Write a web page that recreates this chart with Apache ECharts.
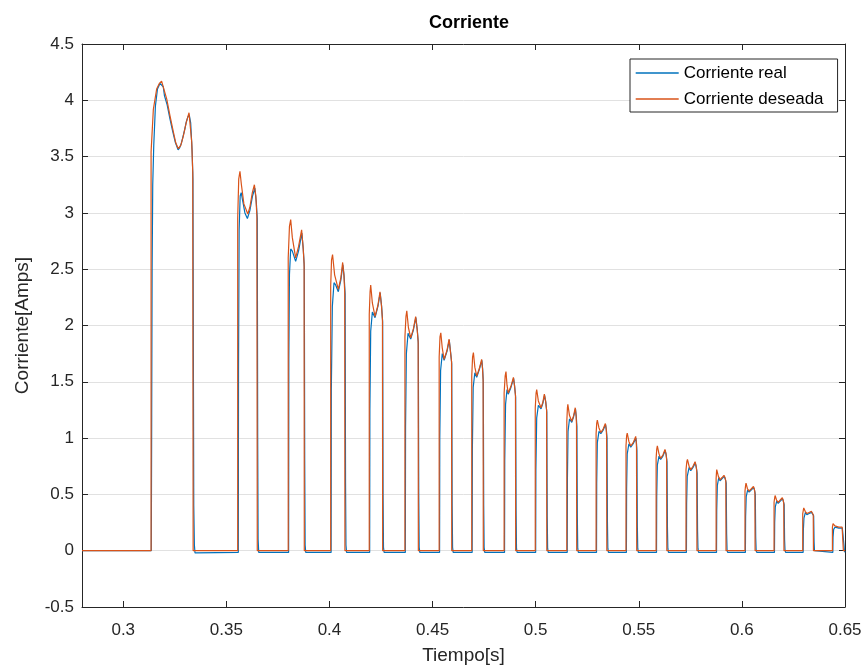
<!DOCTYPE html>
<html>
<head>
<meta charset="utf-8">
<script src="https://cdn.jsdelivr.net/npm/echarts@6/dist/echarts.min.js"></script>
<style>
html,body{margin:0;padding:0;background:#fff;}
#chart{width:866px;height:671px;}
</style>
</head>
<body>
<div id="chart"></div>
<script>
// Tick values
var xTicks = [0.3, 0.35, 0.4, 0.45, 0.5, 0.55, 0.6, 0.65];
var seriesNames = ['Corriente real', 'Corriente deseada'];

// Corriente deseada (orange) — [tiempo, corriente]
var corrienteDeseada = [
  [0.28,0],
  [0.3135,0],[0.3135,3.54],[0.3146,3.92],[0.3162,4.10],[0.3175,4.15],[0.3186,4.17],[0.3211,4.01],[0.3227,3.86],[0.3243,3.72],[0.3255,3.62],[0.3267,3.57],[0.3279,3.60],[0.3291,3.68],[0.3305,3.80],[0.3319,3.89],[0.3332,3.63],[0.3337,3.36],[0.3339,0],
  [0.3555,0],[0.3555,2.95],[0.3560,3.30],[0.3566,3.37],[0.3573,3.25],[0.3585,3.08],[0.3604,2.99],[0.3614,3.05],[0.3626,3.18],[0.3636,3.25],[0.3643,3.15],[0.3648,2.97],[0.3650,0],
  [0.3800,0],[0.3800,2.60],[0.3806,2.88],[0.3812,2.94],[0.3820,2.78],[0.3836,2.60],[0.3850,2.70],[0.3865,2.85],[0.3872,2.70],[0.3877,2.55],[0.3878,0],
  [0.4006,0],[0.4006,2.35],[0.4010,2.58],[0.4015,2.63],[0.4025,2.45],[0.4043,2.32],[0.4055,2.42],[0.4064,2.56],[0.4070,2.45],[0.4074,2.30],[0.4075,0],
  [0.4193,0],[0.4193,2.10],[0.4197,2.30],[0.4200,2.36],[0.4208,2.20],[0.4221,2.08],[0.4235,2.18],[0.4245,2.30],[0.4252,2.18],[0.4257,2.05],[0.4258,0],
  [0.4366,0],[0.4366,1.90],[0.4371,2.08],[0.4375,2.13],[0.4383,1.98],[0.4394,1.89],[0.4407,1.97],[0.4418,2.08],[0.4425,1.97],[0.4430,1.86],[0.4431,0],
  [0.4532,0],[0.4532,1.72],[0.4536,1.90],[0.4540,1.935],[0.4547,1.80],[0.4556,1.70],[0.4570,1.78],[0.4580,1.88],[0.4586,1.78],[0.4592,1.68],[0.4593,0],
  [0.4690,0],[0.4690,1.55],[0.4694,1.72],[0.4698,1.76],[0.4705,1.63],[0.4714,1.55],[0.4727,1.62],[0.4738,1.70],[0.4742,1.62],[0.4745,1.52],[0.4746,0],
  [0.4847,0],[0.4847,1.40],[0.4852,1.55],[0.4856,1.59],[0.4861,1.47],[0.4867,1.40],[0.4880,1.46],[0.4892,1.54],[0.4897,1.47],[0.4902,1.38],[0.4903,0],
  [0.4998,0],[0.4998,1.27],[0.5002,1.40],[0.5005,1.43],[0.5013,1.33],[0.5026,1.27],[0.5035,1.32],[0.5042,1.39],[0.5048,1.33],[0.5053,1.25],[0.5054,0],
  [0.5151,0],[0.5151,1.15],[0.5154,1.27],[0.5156,1.30],[0.5164,1.20],[0.5175,1.15],[0.5184,1.20],[0.5192,1.27],[0.5196,1.20],[0.5198,1.12],[0.5199,0],
  [0.5293,0],[0.5293,1.04],[0.5296,1.13],[0.5299,1.16],[0.5307,1.09],[0.5316,1.05],[0.5327,1.08],[0.5338,1.13],[0.5342,1.08],[0.5344,1.02],[0.5345,0],
  [0.5438,0],[0.5438,0.93],[0.5441,1.02],[0.5444,1.045],[0.5452,0.97],[0.5461,0.93],[0.5473,0.96],[0.5485,1.015],[0.5488,0.96],[0.5489,0.91],[0.5490,0],
  [0.5584,0],[0.5584,0.82],[0.5587,0.90],[0.5590,0.93],[0.5598,0.86],[0.5606,0.82],[0.5617,0.85],[0.5627,0.90],[0.5632,0.86],[0.5635,0.81],[0.5636,0],
  [0.5729,0],[0.5729,0.72],[0.5733,0.79],[0.5736,0.81],[0.5744,0.75],[0.5752,0.72],[0.5763,0.75],[0.5773,0.79],[0.5778,0.75],[0.5781,0.71],[0.5782,0],
  [0.5875,0],[0.5875,0.64],[0.5877,0.70],[0.5878,0.72],[0.5886,0.66],[0.5894,0.63],[0.5904,0.65],[0.5913,0.67],[0.5918,0.65],[0.5922,0.62],[0.5923,0],
  [0.6015,0],[0.6015,0.53],[0.6018,0.58],[0.6020,0.60],[0.6027,0.55],[0.6035,0.53],[0.6046,0.55],[0.6056,0.57],[0.6060,0.55],[0.6063,0.52],[0.6064,0],
  [0.6156,0],[0.6156,0.43],[0.6159,0.47],[0.6161,0.49],[0.6168,0.45],[0.6176,0.43],[0.6186,0.45],[0.6196,0.47],[0.6200,0.45],[0.6203,0.42],[0.6204,0],
  [0.6295,0],[0.6295,0.33],[0.6298,0.36],[0.6300,0.38],[0.6307,0.35],[0.6315,0.33],[0.6326,0.34],[0.6337,0.35],[0.6342,0.34],[0.6346,0.32],[0.6347,0],
  [0.6439,0],[0.6439,0.21],[0.6442,0.24],[0.6444,0.25],[0.6451,0.22],[0.6460,0.21],[0.6470,0.21],[0.6478,0.22],[0.6486,0.21],[0.6491,0.20],[0.6492,0],
  [0.65,0]
];

// Corriente real (blue) — [tiempo, corriente]
var corrienteReal = [
  [0.28,0],
  [0.3136,0],[0.3138,1.2],[0.3140,2.5],[0.3143,3.25],[0.3148,3.6],[0.3156,3.95],[0.3166,4.10],[0.3178,4.15],[0.3186,4.14],[0.3194,4.12],[0.3200,4.04],[0.3206,4.05],[0.3213,3.96],[0.3219,3.95],[0.3226,3.84],[0.3232,3.84],[0.3239,3.73],[0.3245,3.72],[0.3252,3.63],[0.3258,3.63],[0.3266,3.56],[0.3274,3.58],[0.3282,3.62],[0.3290,3.68],[0.3298,3.74],[0.3306,3.81],[0.3313,3.85],[0.3320,3.87],[0.3327,3.80],[0.3334,3.55],[0.3338,3.30],[0.3340,1.8],[0.3342,0.4],[0.3345,0.05],[0.3348,-0.02],
  [0.3558,-0.015],[0.3559,1.6],[0.3562,2.85],[0.3567,3.15],[0.3572,3.18],[0.3580,3.10],[0.3590,3.00],[0.3602,2.95],[0.3614,3.02],[0.3627,3.15],[0.3638,3.22],[0.3645,3.10],[0.3650,2.95],[0.3652,1.0],[0.3654,0.1],[0.3657,-0.015],
  [0.3802,-0.015],[0.3803,1.7],[0.3806,2.45],[0.3812,2.68],[0.3820,2.66],[0.3836,2.57],[0.3850,2.66],[0.3866,2.82],[0.3873,2.68],[0.3878,2.52],[0.3880,0.8],[0.3882,0.05],[0.3885,-0.015],
  [0.4008,-0.015],[0.4009,1.43],[0.4014,2.17],[0.4022,2.38],[0.4030,2.36],[0.4043,2.30],[0.4055,2.40],[0.4065,2.54],[0.4071,2.44],[0.4076,2.28],[0.4078,0.6],[0.4080,0.05],[0.4083,-0.015],
  [0.4195,-0.015],[0.4196,1.25],[0.4200,1.95],[0.4208,2.12],[0.4221,2.07],[0.4235,2.17],[0.4246,2.29],[0.4253,2.17],[0.4258,2.03],[0.4260,0.5],[0.4262,0.03],[0.4265,-0.015],
  [0.4368,-0.015],[0.4369,1.10],[0.4373,1.75],[0.4381,1.93],[0.4394,1.88],[0.4407,1.96],[0.4419,2.07],[0.4426,1.96],[0.4431,1.84],[0.4433,0.5],[0.4435,0.03],[0.4438,-0.015],
  [0.4534,-0.015],[0.4535,1.00],[0.4539,1.60],[0.4547,1.75],[0.4556,1.69],[0.4570,1.77],[0.4581,1.87],[0.4587,1.77],[0.4593,1.66],[0.4595,0.4],[0.4597,0.03],[0.4600,-0.015],
  [0.4692,-0.015],[0.4693,0.90],[0.4697,1.45],[0.4705,1.58],[0.4714,1.54],[0.4727,1.61],[0.4739,1.69],[0.4743,1.61],[0.4746,1.50],[0.4748,0.4],[0.4750,0.03],[0.4753,-0.015],
  [0.4849,-0.015],[0.4850,0.80],[0.4854,1.30],[0.4861,1.43],[0.4867,1.39],[0.4880,1.45],[0.4893,1.53],[0.4898,1.46],[0.4903,1.36],[0.4905,0.35],[0.4907,0.02],[0.4910,-0.015],
  [0.5000,-0.015],[0.5001,0.72],[0.5005,1.18],[0.5013,1.29],[0.5026,1.26],[0.5035,1.31],[0.5043,1.38],[0.5049,1.32],[0.5054,1.23],[0.5056,0.3],[0.5058,0.02],[0.5061,-0.015],
  [0.5153,-0.015],[0.5154,0.65],[0.5157,1.06],[0.5164,1.17],[0.5175,1.14],[0.5184,1.19],[0.5193,1.26],[0.5197,1.19],[0.5200,1.10],[0.5202,0.3],[0.5204,0.02],[0.5207,-0.015],
  [0.5295,-0.015],[0.5296,0.60],[0.5299,0.96],[0.5307,1.06],[0.5316,1.04],[0.5327,1.07],[0.5339,1.12],[0.5343,1.07],[0.5346,1.00],[0.5348,0.25],[0.5350,0.02],[0.5353,-0.015],
  [0.5440,-0.015],[0.5441,0.55],[0.5444,0.86],[0.5452,0.95],[0.5461,0.92],[0.5473,0.95],[0.5486,1.00],[0.5489,0.95],[0.5491,0.89],[0.5493,0.22],[0.5495,0.02],[0.5498,-0.015],
  [0.5586,-0.015],[0.5587,0.48],[0.5590,0.76],[0.5598,0.84],[0.5606,0.81],[0.5617,0.84],[0.5628,0.89],[0.5633,0.85],[0.5637,0.79],[0.5639,0.2],[0.5641,0.02],[0.5644,-0.015],
  [0.5731,-0.015],[0.5732,0.42],[0.5735,0.66],[0.5744,0.74],[0.5752,0.71],[0.5763,0.74],[0.5774,0.78],[0.5779,0.74],[0.5783,0.69],[0.5785,0.18],[0.5787,0.02],[0.5790,-0.015],
  [0.5877,-0.015],[0.5878,0.36],[0.5881,0.58],[0.5888,0.65],[0.5894,0.62],[0.5904,0.64],[0.5914,0.66],[0.5919,0.64],[0.5924,0.60],[0.5926,0.15],[0.5928,0.01],[0.5931,-0.015],
  [0.6017,-0.015],[0.6018,0.30],[0.6021,0.48],[0.6028,0.54],[0.6035,0.52],[0.6046,0.54],[0.6057,0.56],[0.6061,0.54],[0.6065,0.50],[0.6067,0.12],[0.6069,0.01],[0.6072,-0.015],
  [0.6158,-0.015],[0.6159,0.25],[0.6162,0.39],[0.6169,0.44],[0.6176,0.42],[0.6186,0.44],[0.6197,0.46],[0.6201,0.44],[0.6205,0.41],[0.6207,0.1],[0.6209,0.01],[0.6212,-0.015],
  [0.6297,-0.015],[0.6298,0.18],[0.6301,0.29],[0.6308,0.34],[0.6315,0.32],[0.6326,0.33],[0.6338,0.34],[0.6343,0.33],[0.6348,0.31],[0.6350,0.08],[0.6352,0.0],[0.6355,-0.015],
  [0.6441,-0.015],[0.6442,0.12],[0.6445,0.19],[0.6452,0.21],[0.6460,0.20],[0.6470,0.20],[0.6479,0.21],[0.6487,0.20],[0.6493,0.19],[0.6495,0.05],[0.6497,0.0],[0.6500,-0.015]
];

var FONT = '"Liberation Sans", Arial, Helvetica, sans-serif';
var AX = '#262626';

var chart = echarts.init(document.getElementById('chart'), null, {renderer: 'canvas'});
var option = {
  animation: false,
  backgroundColor: '#ffffff',
  textStyle: {fontFamily: FONT},
  title: {
    text: 'Corriente',
    left: 464,
    textAlign: 'center',
    top: 9,
    textStyle: {fontFamily: FONT, fontSize: 18, fontWeight: 'bold', color: '#000'}
  },
  grid: {left: 82, right: 21, top: 44, bottom: 64, containLabel: false},
  legend: {
    data: seriesNames,
    orient: 'vertical',
    left: 630,
    top: 59,
    padding: [4, 14, 3, 5],
    itemGap: 6,
    itemWidth: 43,
    itemHeight: 20,
    backgroundColor: '#fff',
    borderColor: AX,
    borderWidth: 1,
    itemStyle: {opacity: 0},
    lineStyle: {width: 1.4},
    textStyle: {fontFamily: FONT, fontSize: 17, color: '#000', lineHeight: 20}
  },
  xAxis: [{
    type: 'value',
    min: 0.28,
    max: 0.65,
    position: 'bottom',
    name: 'Tiempo[s]',
    nameLocation: 'middle',
    nameGap: 39,
    nameTextStyle: {fontFamily: FONT, fontSize: 19, color: AX},
    axisLine: {show: true, onZero: false, lineStyle: {color: AX, width: 1}},
    axisTick: {show: true, inside: true, length: 6, customValues: xTicks, lineStyle: {color: AX}},
    axisLabel: {show: true, customValues: xTicks, fontFamily: FONT, fontSize: 17, color: AX, margin: 15},
    splitLine: {show: false}
  }, {
    type: 'value',
    min: 0.28,
    max: 0.65,
    position: 'top',
    axisLine: {show: true, onZero: false, lineStyle: {color: AX, width: 1}},
    axisTick: {show: true, inside: true, length: 6, customValues: xTicks, lineStyle: {color: AX}},
    axisLabel: {show: false},
    splitLine: {show: false}
  }],
  yAxis: [{
    type: 'value',
    min: -0.5,
    max: 4.5,
    interval: 0.5,
    position: 'left',
    name: 'Corriente[Amps]',
    nameLocation: 'middle',
    nameRotate: 90,
    nameGap: 50,
    nameTextStyle: {fontFamily: FONT, fontSize: 19, color: AX},
    axisLine: {show: true, onZero: false, lineStyle: {color: AX, width: 1}},
    axisTick: {show: true, inside: true, length: 6, lineStyle: {color: AX}},
    axisLabel: {fontFamily: FONT, fontSize: 17, color: AX, margin: 8},
    splitLine: {show: true, lineStyle: {color: '#e1e1e1', width: 1}}
  }, {
    type: 'value',
    min: -0.5,
    max: 4.5,
    interval: 0.5,
    position: 'right',
    axisLine: {show: true, onZero: false, lineStyle: {color: AX, width: 1}},
    axisTick: {show: true, inside: true, length: 6, lineStyle: {color: AX}},
    axisLabel: {show: false},
    splitLine: {show: false}
  }],
  series: [{
    name: seriesNames[0],
    type: 'line',
    xAxisIndex: 0,
    yAxisIndex: 0,
    data: corrienteReal,
    symbol: 'none',
    showSymbol: false,
    sampling: null,
    lineStyle: {color: '#0072BD', width: 1.2},
    itemStyle: {color: '#0072BD'},
    z: 2
  }, {
    name: seriesNames[1],
    type: 'line',
    xAxisIndex: 0,
    yAxisIndex: 0,
    data: corrienteDeseada,
    symbol: 'none',
    showSymbol: false,
    sampling: null,
    lineStyle: {color: '#D95319', width: 1.2},
    itemStyle: {color: '#D95319'},
    z: 3
  }]
};
chart.setOption(option);
</script>
</body>
</html>
